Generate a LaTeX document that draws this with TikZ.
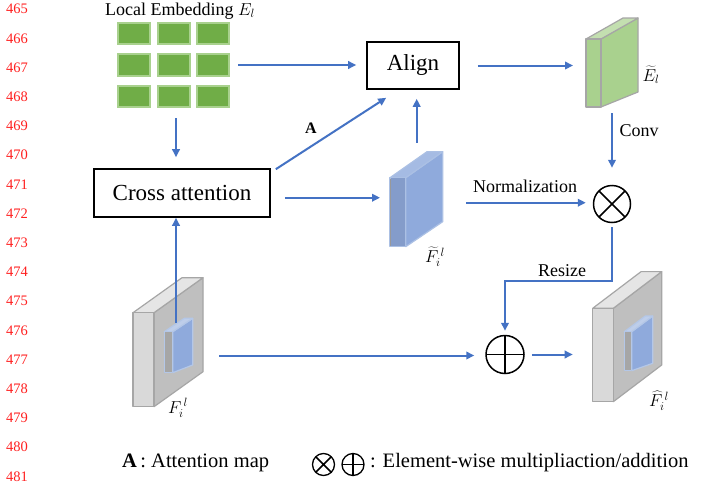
\documentclass[tikz,border=0pt]{standalone}
\usepackage{fontspec}
\setmainfont{Liberation Serif}
\usetikzlibrary{arrows.meta,calc}

\definecolor{arrowblue}{HTML}{4472C4}
\definecolor{cellgreen}{HTML}{70AD47}
\definecolor{cellrim}{HTML}{A9D18E}
\definecolor{linered}{HTML}{FF2020}
\definecolor{slabblue}{HTML}{8FAADC}

% faces of the prisms: <family>front / <family>side / <family>top
\tikzset{
  grfront/.style={fill=cellrim, draw=black!35},
  grside/.style={fill=cellrim, draw=black!35},
  grtop/.style={fill=cellrim!70, draw=black!35},
  blfront/.style={fill=slabblue!92!black, draw=arrowblue!45},
  blside/.style={fill=slabblue, draw=arrowblue!45},
  bltop/.style={fill=slabblue!80, draw=arrowblue!45},
  gyfront/.style={fill=black!15, draw=black!35},
  gyside/.style={fill=black!25, draw=black!35},
  gytop/.style={fill=black!10, draw=black!35},
  ibfront/.style={fill=black!35, draw=arrowblue!40},
  ibside/.style={fill=arrowblue!60, draw=arrowblue!40},
  ibtop/.style={fill=arrowblue!35, draw=arrowblue!40},
}

% #1,#2 top-left of the narrow front face, #3 width, #4 height,
% #5 depth to the right, #6 rise of the top edge, #7 rise of the bottom edge,
% #8 face family
\newcommand\prismslab[8]{%
  \path[#8side, line width=1.2pt, line join=round]
    (#1+#3,#2) -- (#1+#3,#2+#4) -- (#1+#3+#5,#2+#4-#7) -- (#1+#3+#5,#2-#6) -- cycle;
  \path[#8top, line width=1.2pt, line join=round]
    (#1,#2) -- (#1+#3,#2) -- (#1+#3+#5,#2-#6) -- (#1+#5,#2-#6) -- cycle;
  \path[#8front, line width=1.2pt, line join=round]
    (#1,#2) rectangle (#1+#3,#2+#4);
}

\begin{document}
\begin{tikzpicture}[x=1pt, y=-1pt,
  arr/.style={draw=arrowblue, line width=2pt, -{Triangle[length=8pt,width=7.5pt]}},
  box/.style={draw=black, line width=1.6pt, fill=white, inner sep=0pt,
              font=\fontsize{23}{26}\selectfont},
  cell/.style={fill=cellgreen, draw=cellrim, line width=2pt,
               minimum width=32pt, minimum height=21.5pt, inner sep=0pt},
  lbl/.style={inner sep=0pt, font=\fontsize{18}{20}\selectfont},
  linenum/.style={inner sep=0pt, text=linered, font=\fontsize{14.5}{16}\selectfont},
  opcircle/.style={circle, draw=black, line width=1.5pt, inner sep=0pt},
  otimes/.style={opcircle, path picture={
      \draw[line width=1.5pt] (path picture bounding box.north west) -- (path picture bounding box.south east)
                              (path picture bounding box.north east) -- (path picture bounding box.south west);}},
  oplus/.style={opcircle, path picture={
      \draw[line width=1.5pt] (path picture bounding box.north) -- (path picture bounding box.south)
                              (path picture bounding box.west) -- (path picture bounding box.east);}},
]
\useasboundingbox (0,0) rectangle (702,485);
\fill[white] (0,0) rectangle (702,485);

% line numbers of the page margin
\foreach \n in {465,...,481}
  \node[linenum] (ln\n) at (17,{126+29.2*(\n-469)}) {\n};

% local embedding grid
\node[lbl] (embtitle) at (180,11) {Local Embedding $E_l$};
\foreach \r [count=\i] in {33.5,65,96.5}
  \foreach \c [count=\j] in {134,173.5,213}
    \node[cell] (c\i\j) at (\c,\r) {};

% processing boxes
\node[box, minimum width=92pt, minimum height=47pt] (align) at (413,65.5) {Align};
\node[box, minimum width=176pt, minimum height=48pt] (cross) at (182,193) {Cross attention};

% feature slabs
\prismslab{586}{39}{15}{68}{37}{21}{15}{gr}
\prismslab{390}{177.7}{15.7}{69}{37}{26}{25}{bl}
\draw[black!40, line width=1.5pt] (390.6,178.5) -- (390.6,246);
\prismslab{133}{312.7}{21}{94}{49}{35}{35}{gy}
\prismslab{164.3}{331.7}{8.4}{41}{20}{13.4}{7.7}{ib}
\prismslab{592.7}{308.3}{20.6}{93.4}{48.4}{36.7}{36.7}{gy}
\prismslab{624.3}{331.7}{7.4}{39}{21}{15.7}{7.4}{ib}

% anchor points on the slabs
\coordinate (grnW) at (586,65.5);
\coordinate (grnS) at (612,107);
\coordinate (bluW) at (390,197.7);
\coordinate (bluN) at (416.7,151.7);
\coordinate (bluE) at (443,202.7);
\coordinate (lgE) at (203,355.5);
\coordinate (rgW) at (592.7,355.5);
\coordinate (incube) at (176,323);
\coordinate (embS) at (176,108);

% slab labels
\node[lbl] (lblEt) at (651,75) {$\widetilde{E}_l$};
\node[lbl] (lblFt) at (435,257) {$\widetilde{F}_i^{\,l}$};
\node[lbl] (lblF) at (178,408) {$F_i^{\,l}$};
\node[lbl] (lblFh) at (659,401) {$\widehat{F}_i^{\,l}$};

% operators
\node[otimes, minimum size=37pt] (mul) at (612,204) {};
\node[oplus, minimum size=38pt] (add) at (505,354.5) {};

% connectors
\draw[arr, shorten <=8pt, shorten >=10pt] (c23.east) -- (c23.east -| align.west);
\draw[arr, shorten <=18pt, shorten >=13pt] (align.east) -- (grnW);
\draw[arr, shorten <=10pt, shorten >=11pt] (embS) -- (embS |- cross.north);
\draw[arr, shorten <=14pt, shorten >=10pt] (cross.east |- bluW) -- (bluW);
\coordinate (aTail) at ($(cross.north east)+(5,1)$);
\coordinate (aTip) at ($(align.south west)+(20,8)$);
\draw[arr] (aTail) -- (aTip);
\node[inner sep=0pt, font=\fontsize{16}{18}\selectfont\bfseries] (alabel) at (311,128) {A};
\draw[arr, shorten <=9pt, shorten >=9pt] (bluN) -- (bluN |- align.south);
\draw[arr, shorten <=6pt, shorten >=17pt] (grnS) -- (grnS |- mul.north);
\node[lbl] (conv) at (639,131) {Conv};
\draw[arr, shorten <=23pt, shorten >=7pt] (bluE) -- (bluE -| mul.west);
\node[lbl] (norm) at (525,186) {Normalization};
\coordinate (bend) at (505,280.7);
\draw[arr, shorten <=4pt, shorten >=4pt] (mul.south) |- (bend) -- (add.north);
\node[lbl] (resize) at (562,271) {Resize};
\draw[arr, shorten <=16pt, shorten >=11pt] (lgE) -- (lgE -| add.west);
\draw[arr, shorten <=7pt, shorten >=20pt] (add.east) -- (add.east -| rgW);
\draw[arr] (incube) -- (incube |- cross.south);

% legend
\node[inner sep=0pt, anchor=west, font=\fontsize{20.5}{22}\selectfont] (legA) at (122,462.7)
  {\textbf{A}\,: Attention map};
\node[otimes, minimum size=22pt, line width=1.3pt] (legmul) at (323.5,464.5) {};
\node[oplus, minimum size=22pt, line width=1.3pt] (legadd) at (353,464.5) {};
\node[inner sep=0pt, anchor=west, font=\fontsize{20.5}{22}\selectfont] (legop) at (370,462.7)
  {: Element-wise multipliaction/addition};
\end{tikzpicture}
\end{document}
